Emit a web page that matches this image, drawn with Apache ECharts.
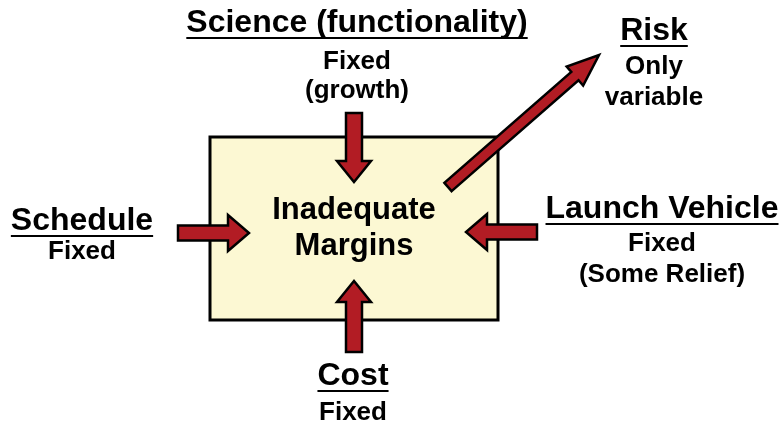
<!DOCTYPE html>
<html>
<head>
<meta charset="utf-8">
<script src="https://cdn.jsdelivr.net/npm/echarts@6/dist/echarts.min.js"></script>
<style>
  html, body { margin: 0; padding: 0; background: #fff; }
  #chart { width: 782px; height: 425px; }
</style>
</head>
<body>
<div id="chart"></div>
<script>
// diagram space is 782 x 425, y grows downwards
var boxCorners = [[210, 137], [498, 320]];
var centerLines = ['Inadequate', 'Margins'];
var centerX = 354;
var centerBaselines = [221, 257];

var labelNames = ['Science (functionality)', 'Schedule', 'Launch Vehicle', 'Cost', 'Risk'];
var labelNotes = [['Fixed', '(growth)'], ['Fixed'], ['Fixed', '(Some Relief)'], ['Fixed'], ['Only', 'variable']];
var labelX = [357, 82, 662, 353, 654];
var labelBaseline = [34, 232, 220, 387, 42];
var noteBaselines = [[71, 100], [261], [253, 284], [422], [76, 107]];

var arrowFrom = [[354, 113], [178, 233], [537, 232], [354, 352], [448, 187]];
var arrowTo = [[354, 182], [249, 233], [466, 232], [354, 281], [599, 55]];

var FONT = '"Liberation Sans", Arial, Helvetica, sans-serif';
var ARROW_RED = '#b21c24';
var arrowShape = [
    {shaft: 8, head: 17, len: 21},
    {shaft: 7.5, head: 18, len: 21},
    {shaft: 7.5, head: 18, len: 21},
    {shaft: 8, head: 17, len: 21},
    {shaft: 5.5, head: 12.5, len: 32}
];

var measureCtx = document.createElement('canvas').getContext('2d');
function textWidth(text, font)
{
    measureCtx.font = font;
    return measureCtx.measureText(text).width;
}

function textEl(text, x, y, size)
{
    var font = 'bold ' + size + 'px ' + FONT;
    return {
        type: 'text',
        style: {
            text: text,
            x: x,
            y: y - 0.35 * size,
            font: font,
            fill: '#000',
            align: 'center',
            textAlign: 'center',
            verticalAlign: 'middle',
            textVerticalAlign: 'middle'
        }
    };
}

var chart = echarts.init(document.getElementById('chart'), null, {renderer: 'canvas'});

var option = {
    animation: false,
    backgroundColor: '#ffffff',
    grid: {left: 0, right: 0, top: 0, bottom: 0},
    xAxis: {type: 'value', min: 0, max: 782, show: false},
    yAxis: {type: 'value', min: 0, max: 425, inverse: true, show: false},
    series: [
        {
            // the box
            type: 'custom',
            data: [[boxCorners[0][0], boxCorners[0][1], boxCorners[1][0], boxCorners[1][1]]],
            renderItem: function(params, api) {
                var p1 = api.coord([api.value(0), api.value(1)]);
                var p2 = api.coord([api.value(2), api.value(3)]);
                return {
                    type: 'rect',
                    shape: {x: p1[0], y: p1[1], width: p2[0] - p1[0], height: p2[1] - p1[1]},
                    style: {fill: '#fcf8d3', stroke: '#000', lineWidth: 3}
                };
            }
        },
        {
            // arrows
            type: 'custom',
            data: arrowFrom.map(function(f, i) {
                return [f[0], f[1], arrowTo[i][0], arrowTo[i][1]];
            }),
            renderItem: function(params, api) {
                var t = api.coord([api.value(0), api.value(1)]);
                var p = api.coord([api.value(2), api.value(3)]);
                var sh = arrowShape[params.dataIndex];
                var dx = p[0] - t[0], dy = p[1] - t[1];
                var d = Math.sqrt(dx * dx + dy * dy);
                var ux = dx / d, uy = dy / d;
                var nx = -uy, ny = ux;
                var bx = p[0] - ux * sh.len, by = p[1] - uy * sh.len;
                var pts = [
                    [t[0] + nx * sh.shaft, t[1] + ny * sh.shaft],
                    [bx + nx * sh.shaft, by + ny * sh.shaft],
                    [bx + nx * sh.head, by + ny * sh.head],
                    [p[0], p[1]],
                    [bx - nx * sh.head, by - ny * sh.head],
                    [bx - nx * sh.shaft, by - ny * sh.shaft],
                    [t[0] - nx * sh.shaft, t[1] - ny * sh.shaft]
                ];
                return {
                    type: 'polygon',
                    shape: {points: pts},
                    style: {fill: ARROW_RED, stroke: '#000', lineWidth: 2.5, lineJoin: 'miter'}
                };
            }
        },
        {
            // labels around the box
            type: 'custom',
            data: labelNames.map(function(n, i) { return [labelX[i], labelBaseline[i]]; }),
            renderItem: function(params, api) {
                var i = params.dataIndex;
                var p = api.coord([api.value(0), api.value(1)]);
                var name = labelNames[i];
                var w = textWidth(name, 'bold 32px ' + FONT);
                var children = [textEl(name, p[0], p[1], 32)];
                children.push({
                    type: 'line',
                    shape: {x1: p[0] - w / 2, y1: p[1] + 4, x2: p[0] + w / 2, y2: p[1] + 4},
                    style: {stroke: '#000', lineWidth: 2}
                });
                labelNotes[i].forEach(function(note, j) {
                    var q = api.coord([api.value(0), noteBaselines[i][j]]);
                    children.push(textEl(note, q[0], q[1], 26));
                });
                return {type: 'group', children: children};
            }
        },
        {
            // text in the box
            type: 'custom',
            data: centerLines.map(function(s, i) { return [centerX, centerBaselines[i]]; }),
            renderItem: function(params, api) {
                var p = api.coord([api.value(0), api.value(1)]);
                return textEl(centerLines[params.dataIndex], p[0], p[1], 31);
            }
        }
    ]
};

chart.setOption(option);
</script>
</body>
</html>
